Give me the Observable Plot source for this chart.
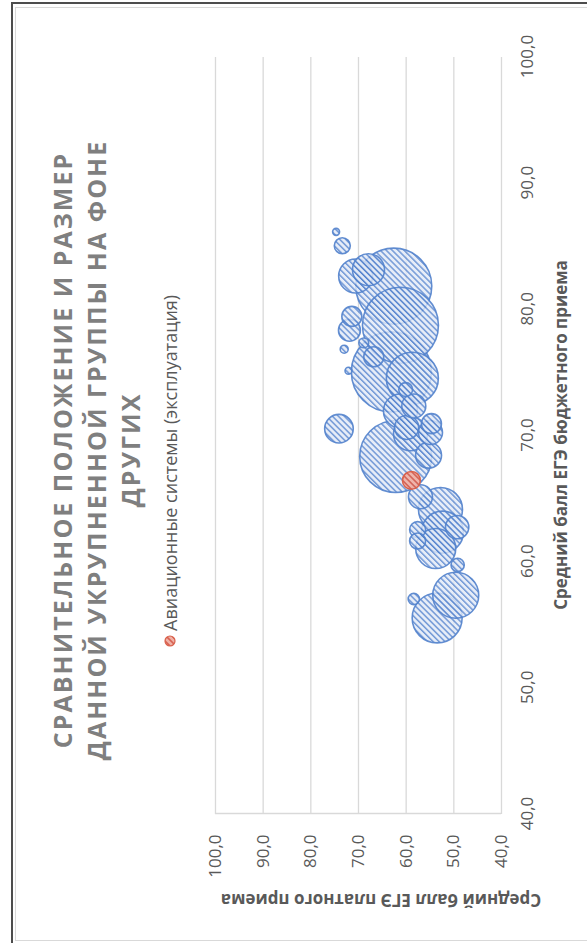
<!DOCTYPE html>
<html><head><meta charset="utf-8">
<script src="https://cdn.jsdelivr.net/npm/d3@7"></script>
<script src="https://cdn.jsdelivr.net/npm/@observablehq/plot@0.6"></script>
<style>
html,body{margin:0;padding:0;background:#fff;width:587px;height:943px;overflow:hidden;font-family:"Open Sans",sans-serif;}
#edgeTop{position:absolute;left:11px;top:2px;width:576px;height:2px;background:#4d4d4d;}
#edgeLeft{position:absolute;left:11px;top:2px;width:2px;height:941px;background:#4d4d4d;}
#frame{position:absolute;left:0;top:943px;width:943px;height:587px;transform-origin:0 0;transform:rotate(-90deg);}
#border{position:absolute;left:2px;top:15px;width:934px;height:600px;border:1px solid #d9d9d9;box-sizing:border-box;}
#title{position:absolute;left:93px;top:45px;width:800px;text-align:center;font-weight:bold;font-size:25px;line-height:34px;letter-spacing:2px;color:#7f7f7f;}
#legend{position:absolute;left:296px;top:158px;height:24px;display:flex;align-items:center;font-size:18px;color:#595959;white-space:nowrap;}
#legend svg{margin-right:4px;}
#chart{position:absolute;left:0;top:180px;}
#xtitle{position:absolute;left:258px;top:549px;width:500px;text-align:center;font-weight:bold;font-size:17px;line-height:24px;color:#595959;white-space:nowrap;}
#ytitle{position:absolute;left:-207px;top:369px;width:500px;height:24px;text-align:center;font-weight:bold;font-size:17px;line-height:24px;color:#595959;white-space:nowrap;transform:rotate(-90deg);transform-origin:50% 50%;}
</style></head>
<body>
<div id="edgeTop"></div><div id="edgeLeft"></div>
<div id="frame">
  <div id="border"></div>
  <div id="chart"></div>
  <div id="title">СРАВНИТЕЛЬНОЕ ПОЛОЖЕНИЕ И РАЗМЕР<br>ДАННОЙ УКРУПНЕННОЙ ГРУППЫ НА ФОНЕ<br>ДРУГИХ</div>
  <div id="legend"><svg width="12" height="12"><defs><pattern id="hatchRedL" patternUnits="userSpaceOnUse" width="4.2" height="4.2" patternTransform="rotate(45)"><rect width="4.2" height="4.2" fill="#efb1a6"/><rect width="1.5" height="4.2" fill="#d65a4a"/></pattern></defs><circle cx="6" cy="6" r="5" fill="url(#hatchRedL)" stroke="#d9604a" stroke-width="1.2"/></svg><span>Авиационные системы (эксплуатация)</span></div>
  <div id="xtitle">Средний балл ЕГЭ бюджетного приема</div>
  <div id="ytitle">Средний балл ЕГЭ платного приема</div>
</div>
<script>
// Other enlarged groups (blue bubbles)
const budgetScores = [86.1, 85.0, 82.6, 83.1, 81.8, 78.7, 79.4, 78.3, 77.3, 76.8, 75.1, 76.2, 75.0, 74.5, 73.6, 71.9, 70.6, 72.3, 70.9, 70.1, 70.2, 68.4, 68.3, 70.5, 65.1, 64.1, 62.3, 62.5, 61.6, 61.0, 59.7, 57.3, 55.5, 57.0, 62.7];
const paidScores   = [74.7, 73.4, 70.6, 67.9, 62.6, 61.2, 71.4, 71.9, 68.9, 73.0, 72.1, 66.8, 63.1, 58.7, 60.1, 61.2, 59.9, 58.4, 54.7, 59.1, 54.9, 55.3, 62.2, 74.1, 57.0, 52.8, 52.4, 57.6, 57.6, 53.8, 49.2, 49.6, 53.5, 58.4, 49.3];
const groupSizes   = [3, 16, 72, 64, 361, 361, 25, 30, 6, 4, 3, 25, 400, 169, 12, 72, 36, 36, 25, 72, 36, 42, 324, 51, 36, 121, 110, 16, 16, 100, 11, 132, 156, 8, 34];
// Highlighted group
const focusName = "Авиационные системы (эксплуатация)";
const focusBudget = [66.4];
const focusPaid = [58.9];
const focusSize = [20];
// Axis ticks
const xTicks = [40, 50, 60, 70, 80, 90, 100];
const yTicks = [40, 50, 60, 70, 80, 90, 100];

const others = budgetScores.map((x, i) => ({x, y: paidScores[i], s: groupSizes[i]}));
const focus = focusBudget.map((x, i) => ({x, y: focusPaid[i], s: focusSize[i], name: focusName}));
const fmt = d => d.toFixed(1).replace(".", ",");

const plot = Plot.plot({
  width: 943,
  height: 407,
  marginLeft: 129,
  marginRight: 57,
  marginTop: 35,
  marginBottom: 86,
  style: {fontSize: "17px", fontFamily: "'Open Sans', sans-serif", color: "#595959", background: "transparent", overflow: "visible"},
  x: {domain: [40, 100], ticks: xTicks, tickFormat: fmt, tickSize: 0, tickPadding: 19, label: null},
  y: {domain: [40, 100], ticks: yTicks, tickFormat: fmt, tickSize: 0, tickPadding: 21, label: null},
  r: {type: "sqrt", domain: [0, 400], range: [0, 40]},
  marks: [
    Plot.ruleY(yTicks, {stroke: "#d9d9d9", strokeWidth: 1.3}),
    Plot.ruleX([40], {stroke: "#d9d9d9", strokeWidth: 1.3}),
    Plot.dot(others, {x: "x", y: "y", r: "s", fill: "url(#hatchBlue)", fillOpacity: 0.8, stroke: "#5282cc", strokeWidth: 1.6, strokeOpacity: 0.9}),
    Plot.dot(focus, {x: "x", y: "y", r: "s", fill: "url(#hatchRed)", fillOpacity: 0.95, stroke: "#d9604a", strokeWidth: 1.5})
  ]
});
const defs = d3.select(plot).insert("defs", ":first-child");
const pb = defs.append("pattern").attr("id", "hatchBlue").attr("patternUnits", "userSpaceOnUse")
  .attr("width", 4.2).attr("height", 4.2).attr("patternTransform", "rotate(45)");
pb.append("rect").attr("width", 4.2).attr("height", 4.2).attr("fill", "#e1e9f6");
pb.append("rect").attr("width", 1.5).attr("height", 4.2).attr("fill", "#4f7fcc");
const pr = defs.append("pattern").attr("id", "hatchRed").attr("patternUnits", "userSpaceOnUse")
  .attr("width", 4.2).attr("height", 4.2).attr("patternTransform", "rotate(45)");
pr.append("rect").attr("width", 4.2).attr("height", 4.2).attr("fill", "#efb1a6");
pr.append("rect").attr("width", 1.5).attr("height", 4.2).attr("fill", "#d65a4a");
document.getElementById("chart").appendChild(plot);
</script>
</body></html>
